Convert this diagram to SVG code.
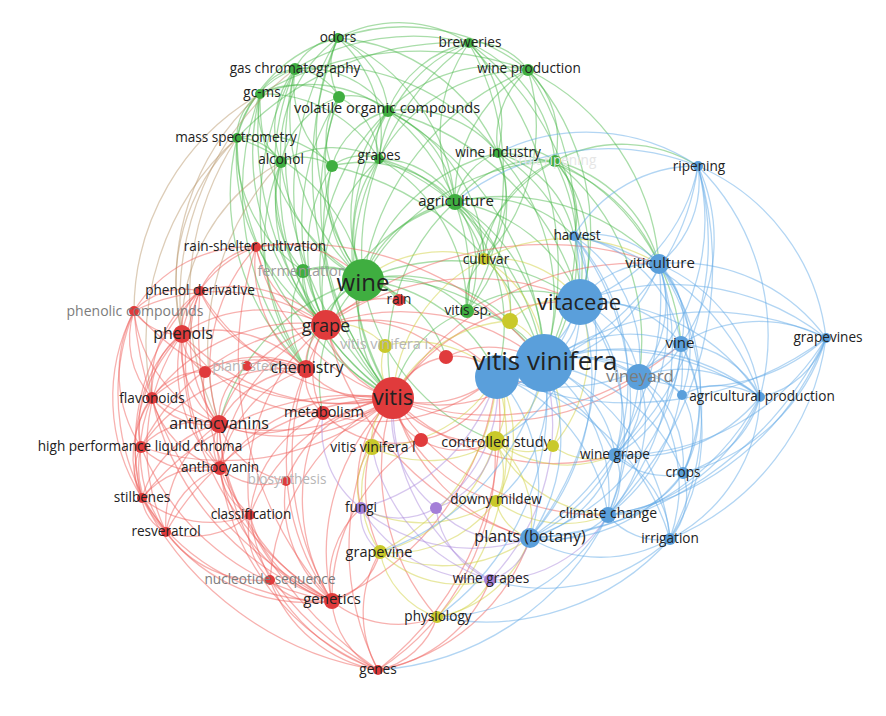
<svg xmlns="http://www.w3.org/2000/svg" width="886" height="716" viewBox="0 0 886 716">
<style>
.e path{fill:none;stroke-width:1.3;stroke-opacity:.48}
.eg{stroke:#4cb84c}.er{stroke:#ef5b58}.eb{stroke:#5ea7e6}.ey{stroke:#cfcf3a}.ep{stroke:#a987dc}.eo{stroke:#b8966a}
text{font-family:"Open Sans","Liberation Sans",sans-serif;fill:#222;text-anchor:middle;font-size:13.6px}
.G circle{fill:#3fae40}.R circle{fill:#e03b3c}.B circle{fill:#5a9fdb}.Y circle{fill:#c9c92b}.P circle{fill:#a47fd8}
.f1{fill:#7c7c7c}.f2{fill:#9c9c9c}.f3{fill:#b6b6b6}.f4{fill:#e6e6e6}
</style>
<rect width="886" height="716" fill="#fff"/>
<g id="connectors" class="e">
<g class="eg">
<path d="M295 69A55 55 0 0 1 338 38"/><path d="M338 38A90 90 0 0 1 388 111"/><path d="M363 280A240 240 0 0 1 338 38"/><path d="M326 325A290 290 0 0 1 338 38"/><path d="M281 162A140 140 0 0 1 338 38"/><path d="M339 97A60 60 0 0 1 338 38"/><path d="M338 38A130 130 0 0 1 469 43"/><path d="M393 398A360 360 0 0 1 338 38"/><path d="M338 38A200 200 0 0 1 455 202"/><path d="M338 38A130 130 0 0 1 379 159"/><path d="M237 138A140 140 0 0 1 338 38"/>
<path d="M469 43A65 65 0 0 1 528 70"/><path d="M469 43A115 115 0 0 1 498 153"/><path d="M455 202A160 160 0 0 1 469 43"/><path d="M363 280A260 260 0 0 1 469 43"/><path d="M469 43A330 330 0 0 1 544 364"/><path d="M469 43A145 145 0 0 1 555 161"/><path d="M469 43A270 270 0 0 1 467 311"/><path d="M469 43A280 280 0 0 1 580 302"/>
<path d="M498 153A90 90 0 0 1 528 70"/><path d="M528 70A95 95 0 0 1 555 161"/><path d="M455 202A150 150 0 0 1 528 70"/><path d="M363 280A270 270 0 0 1 528 70"/><path d="M528 70A295 295 0 0 1 544 364"/><path d="M528 70A240 240 0 0 1 580 302"/><path d="M528 70A235 235 0 0 1 659 264"/><path d="M528 70A195 195 0 0 1 484 259"/>
<path d="M260 94A45 45 0 0 1 295 69"/><path d="M295 69A55 55 0 0 1 339 97"/><path d="M295 69A100 100 0 0 1 388 111"/><path d="M237 138A90 90 0 0 1 295 69"/><path d="M281 162A95 95 0 0 1 295 69"/><path d="M363 280A220 220 0 0 1 295 69"/><path d="M326 325A260 260 0 0 1 295 69"/><path d="M393 398A340 340 0 0 1 295 69"/><path d="M332 166A105 105 0 0 1 295 69"/><path d="M306 369A300 300 0 0 1 295 69"/>
<path d="M237 138A50 50 0 0 1 260 94"/><path d="M260 94A80 80 0 0 1 339 97"/><path d="M260 94A130 130 0 0 1 388 111"/><path d="M281 162A70 70 0 0 1 260 94"/><path d="M363 280A210 210 0 0 1 260 94"/><path d="M326 325A240 240 0 0 1 260 94"/><path d="M393 398A330 330 0 0 1 260 94"/>
<path d="M339 97A52 52 0 0 1 388 111"/><path d="M332 166A70 70 0 0 1 339 97"/><path d="M363 280A185 185 0 0 1 339 97"/><path d="M393 398A305 305 0 0 1 339 97"/><path d="M339 97A75 75 0 0 1 379 159"/><path d="M281 162A90 90 0 0 1 339 97"/>
<path d="M379 159A50 50 0 0 1 388 111"/><path d="M388 111A115 115 0 0 1 455 202"/><path d="M363 280A170 170 0 0 1 388 111"/><path d="M388 111A300 300 0 0 1 544 364"/><path d="M393 398A287 287 0 0 1 388 111"/><path d="M326 325A225 225 0 0 1 388 111"/><path d="M332 166A80 80 0 0 1 388 111"/><path d="M388 111A118 118 0 0 1 498 153"/><path d="M388 111A270 270 0 0 1 580 302"/>
<path d="M237 138A50 50 0 0 1 281 162"/><path d="M237 138A190 190 0 0 1 363 280"/><path d="M326 325A205 205 0 0 1 237 138"/><path d="M393 398A300 300 0 0 1 237 138"/><path d="M303 271A150 150 0 0 1 237 138"/><path d="M306 369A240 240 0 0 1 237 138"/>
<path d="M281 162A52 52 0 0 1 332 166"/><path d="M363 280A145 145 0 0 1 281 162"/><path d="M303 271A112 112 0 0 1 281 162"/><path d="M326 325A170 170 0 0 1 281 162"/><path d="M393 398A260 260 0 0 1 281 162"/><path d="M306 369A210 210 0 0 1 281 162"/>
<path d="M332 166A48 48 0 0 1 379 159"/><path d="M363 280A118 118 0 0 1 332 166"/><path d="M393 398A240 240 0 0 1 332 166"/><path d="M332 166A290 290 0 0 1 544 364"/><path d="M332 166A128 128 0 0 1 455 202"/>
<path d="M379 159A88 88 0 0 1 455 202"/><path d="M363 280A122 122 0 0 1 379 159"/><path d="M379 159A265 265 0 0 1 544 364"/><path d="M393 398A240 240 0 0 1 379 159"/><path d="M379 159A145 145 0 0 1 484 259"/><path d="M379 159A175 175 0 0 1 467 311"/>
<path d="M455 202A65 65 0 0 1 498 153"/><path d="M498 153A58 58 0 0 1 555 161"/><path d="M498 153A216 216 0 0 1 544 364"/><path d="M498 153A170 170 0 0 1 580 302"/><path d="M363 280A185 185 0 0 1 498 153"/><path d="M498 153A107 107 0 0 1 484 259"/><path d="M498 153A161 161 0 0 1 467 311"/>
<path d="M455 202A108 108 0 0 1 555 161"/><path d="M555 161A203 203 0 0 1 544 364"/><path d="M555 161A143 143 0 0 1 580 302"/><path d="M555 161A77 77 0 0 1 574 236"/><path d="M555 161A146 146 0 0 1 659 264"/><path d="M555 161A143 143 0 0 1 698 166"/><path d="M555 161A222 222 0 0 1 681 344"/><path d="M555 161A232 232 0 0 1 639 377"/><path d="M363 280A226 226 0 0 1 555 161"/>
<path d="M363 280A120 120 0 0 1 455 202"/><path d="M455 202A185 185 0 0 1 544 364"/><path d="M455 202A160 160 0 0 1 580 302"/><path d="M455 202A64 64 0 0 1 484 259"/><path d="M455 202A110 110 0 0 1 467 311"/><path d="M393 398A205 205 0 0 1 455 202"/><path d="M455 202A178 178 0 0 1 497 375"/><path d="M455 202A124 124 0 0 1 574 236"/>
<path d="M326 325A58 58 0 0 1 363 280"/><path d="M393 398A122 122 0 0 1 363 280"/><path d="M363 280A200 200 0 0 1 544 364"/><path d="M363 280A165 165 0 0 1 497 375"/><path d="M303 271A61 61 0 0 1 363 280"/><path d="M363 280A41 41 0 0 1 399 300"/><path d="M363 280A108 108 0 0 1 467 311"/><path d="M306 369A106 106 0 0 1 363 280"/><path d="M363 280A218 218 0 0 1 580 302"/><path d="M495 441A208 208 0 0 1 363 280"/>
<path d="M326 325A59 59 0 0 1 303 271"/><path d="M393 398A156 156 0 0 1 303 271"/><path d="M306 369A98 98 0 0 1 303 271"/>
<path d="M467 311A94 94 0 0 1 544 364"/><path d="M467 311A113 113 0 0 1 580 302"/><path d="M393 398A114 114 0 0 1 467 311"/><path d="M467 311A55 55 0 0 1 484 259"/>
<path d="M326 325A175 175 0 0 1 379 159"/><path d="M326 325A190 190 0 0 1 455 202"/><path d="M455 202A215 215 0 0 1 659 264"/><path d="M498 153A110 110 0 0 1 574 236"/><path d="M498 153A180 180 0 0 1 659 264"/><path d="M388 111A170 170 0 0 1 484 259"/><path d="M326 325A160 160 0 0 1 332 166"/><path d="M338 38A190 190 0 0 1 498 153"/><path d="M388 111A110 110 0 0 1 469 43"/><path d="M388 111A150 150 0 0 1 528 70"/><path d="M379 159A170 170 0 0 1 528 70"/><path d="M379 159A140 140 0 0 1 469 43"/><path d="M338 38A200 200 0 0 1 528 70"/><path d="M295 69A215 215 0 0 1 498 153"/><path d="M260 94A135 135 0 0 1 379 159"/><path d="M237 138A100 100 0 0 1 332 166"/><path d="M281 162A100 100 0 0 1 379 159"/><path d="M303 271A100 100 0 0 1 399 300"/><path d="M323 413A140 140 0 0 1 363 280"/><path d="M219 424A205 205 0 0 1 363 280"/><path d="M363 280A115 115 0 0 1 446 357"/><path d="M363 280A160 160 0 0 1 510 321"/><path d="M455 202A130 130 0 0 1 510 321"/><path d="M484 259A120 120 0 0 1 555 161"/><path d="M467 311A175 175 0 0 1 555 161"/><path d="M326 325A230 230 0 0 1 339 97"/><path d="M388 111A215 215 0 0 1 467 311"/><path d="M306 369A280 280 0 0 1 260 94"/>
<path d="M295 69A230 230 0 0 1 469 43"/><path d="M260 94A320 320 0 0 1 528 70"/><path d="M237 138A300 300 0 0 1 469 43"/>
</g>
<g class="eo">
<path d="M182 334A250 250 0 0 1 260 94"/><path d="M182 334A205 205 0 0 1 237 138"/><path d="M152 398A273 273 0 0 1 237 138"/><path d="M134 311A251 251 0 0 1 260 94"/><path d="M219 424A270 270 0 0 1 281 162"/><path d="M219 424A290 290 0 0 1 237 138"/><path d="M182 334A190 190 0 0 1 281 162"/><path d="M182 334A290 290 0 0 1 295 69"/>
</g>
<g class="er">
<path d="M326 325A105 105 0 0 1 256 247"/><path d="M393 398A204 204 0 0 1 256 247"/><path d="M256 247A112 112 0 0 1 363 280"/><path d="M306 369A132 132 0 0 1 256 247"/><path d="M182 334A114 114 0 0 1 256 247"/><path d="M256 247A310 310 0 0 1 544 364"/>
<path d="M182 334A47 47 0 0 1 200 291"/><path d="M134 311A69 69 0 0 1 200 291"/><path d="M200 291A130 130 0 0 1 326 325"/><path d="M393 398A220 220 0 0 1 200 291"/><path d="M219 424A134 134 0 0 1 200 291"/><path d="M306 369A132 132 0 0 1 200 291"/><path d="M152 398A117 117 0 0 1 200 291"/>
<path d="M182 334A53 53 0 0 1 134 311"/><path d="M152 398A89 89 0 0 1 134 311"/><path d="M142 498A187 187 0 0 1 134 311"/><path d="M166 532A223 223 0 0 1 134 311"/><path d="M219 424A141 141 0 0 1 134 311"/><path d="M141 447A136 136 0 0 1 134 311"/><path d="M134 311A192 192 0 0 1 326 325"/>
<path d="M152 398A71 71 0 0 1 182 334"/><path d="M219 424A97 97 0 0 1 182 334"/><path d="M142 498A169 169 0 0 1 182 334"/><path d="M166 532A199 199 0 0 1 182 334"/><path d="M141 447A120 120 0 0 1 182 334"/><path d="M182 334A144 144 0 0 1 326 325"/><path d="M393 398A220 220 0 0 1 182 334"/><path d="M182 334A129 129 0 0 1 306 369"/><path d="M205 372A44 44 0 0 1 182 334"/><path d="M220 468A139 139 0 0 1 182 334"/>
<path d="M393 398A99 99 0 0 1 326 325"/><path d="M306 369A48 48 0 0 1 326 325"/><path d="M323 413A88 88 0 0 1 326 325"/><path d="M219 424A146 146 0 0 1 326 325"/><path d="M326 325A221 221 0 0 1 544 364"/><path d="M326 325A178 178 0 0 1 497 375"/><path d="M326 325A77 77 0 0 1 399 300"/><path d="M326 325A124 124 0 0 1 446 357"/><path d="M332 601A276 276 0 0 1 326 325"/><path d="M250 515A205 205 0 0 1 326 325"/>
<path d="M393 398A92 92 0 0 1 306 369"/><path d="M323 413A47 47 0 0 1 306 369"/><path d="M219 424A103 103 0 0 1 306 369"/><path d="M205 372A101 101 0 0 1 306 369"/><path d="M247 366A60 60 0 0 1 306 369"/><path d="M332 601A233 233 0 0 1 306 369"/>
<path d="M497 375A107 107 0 0 1 393 398"/><path d="M544 364A155 155 0 0 1 393 398"/><path d="M393 398A72 72 0 0 1 323 413"/><path d="M421 440A50 50 0 0 1 393 398"/><path d="M393 398A67 67 0 0 1 446 357"/><path d="M393 398A176 176 0 0 1 219 424"/><path d="M332 601A212 212 0 0 1 393 398"/><path d="M250 515A185 185 0 0 1 393 398"/><path d="M393 398A210 210 0 0 1 580 302"/><path d="M495 441A111 111 0 0 1 393 398"/><path d="M380 552A155 155 0 0 1 393 398"/><path d="M361 508A115 115 0 0 1 393 398"/><path d="M530 538A196 196 0 0 1 393 398"/>
<path d="M219 424A72 72 0 0 1 152 398"/><path d="M141 447A50 50 0 0 1 152 398"/><path d="M142 498A100 100 0 0 1 152 398"/><path d="M166 532A135 135 0 0 1 152 398"/><path d="M152 398A59 59 0 0 1 205 372"/><path d="M220 468A98 98 0 0 1 152 398"/>
<path d="M141 447A81 81 0 0 1 219 424"/><path d="M220 468A44 44 0 0 1 219 424"/><path d="M142 498A107 107 0 0 1 219 424"/><path d="M166 532A120 120 0 0 1 219 424"/><path d="M323 413A105 105 0 0 1 219 424"/><path d="M250 515A96 96 0 0 1 219 424"/><path d="M286 481A88 88 0 0 1 219 424"/>
<path d="M142 498A51 51 0 0 1 141 447"/><path d="M166 532A89 89 0 0 1 141 447"/><path d="M220 468A82 82 0 0 1 141 447"/>
<path d="M142 498A84 84 0 0 1 220 468"/><path d="M166 532A84 84 0 0 1 220 468"/><path d="M286 481A67 67 0 0 1 220 468"/><path d="M250 515A56 56 0 0 1 220 468"/>
<path d="M166 532A42 42 0 0 1 142 498"/><path d="M250 515A109 109 0 0 1 142 498"/><path d="M250 515A86 86 0 0 1 166 532"/><path d="M332 601A180 180 0 0 1 166 532"/><path d="M270 580A115 115 0 0 1 166 532"/>
<path d="M270 580A68 68 0 0 1 250 515"/><path d="M332 601A119 119 0 0 1 250 515"/><path d="M332 601A65 65 0 0 1 270 580"/><path d="M378 670A140 140 0 0 1 270 580"/><path d="M270 580A220 220 0 0 1 393 398"/>
<path d="M378 670A83 83 0 0 1 332 601"/><path d="M380 552A68 68 0 0 1 332 601"/><path d="M497 375A280 280 0 0 1 332 601"/><path d="M437 617A106 106 0 0 1 332 601"/><path d="M332 601A97 97 0 0 1 361 508"/>
<path d="M378 670A118 118 0 0 1 380 552"/><path d="M437 617A79 79 0 0 1 378 670"/><path d="M497 375A320 320 0 0 1 378 670"/><path d="M495 441A257 257 0 0 1 378 670"/><path d="M530 538A201 201 0 0 1 378 670"/><path d="M490 580A144 144 0 0 1 378 670"/><path d="M378 670A293 293 0 0 1 219 424"/>
<path d="M421 440A102 102 0 0 1 323 413"/><path d="M497 375A178 178 0 0 1 323 413"/><path d="M446 357A54 54 0 0 1 497 375"/><path d="M446 357A98 98 0 0 1 544 364"/><path d="M497 375A100 100 0 0 1 421 440"/><path d="M286 481A135 135 0 0 1 393 398"/>
<path d="M332 601A351 351 0 0 1 134 311"/><path d="M378 670A418 418 0 0 1 200 291"/><path d="M332 601A362 362 0 0 1 256 247"/><path d="M639 377A247 247 0 0 1 393 398"/><path d="M615 455A229 229 0 0 1 393 398"/><path d="M326 325A255 255 0 0 1 580 302"/>
<path d="M152 398A185 185 0 0 1 326 325"/><path d="M220 468A180 180 0 0 1 326 325"/><path d="M141 447A225 225 0 0 1 326 325"/><path d="M152 398A155 155 0 0 1 306 369"/><path d="M220 468A130 130 0 0 1 306 369"/><path d="M141 447A180 180 0 0 1 306 369"/><path d="M393 398A240 240 0 0 1 152 398"/><path d="M220 468A185 185 0 0 1 393 398"/><path d="M393 398A260 260 0 0 1 141 447"/><path d="M142 498A270 270 0 0 1 393 398"/><path d="M166 532A265 265 0 0 1 393 398"/><path d="M393 398A275 275 0 0 1 134 311"/>
<path d="M332 601A210 210 0 0 1 219 424"/><path d="M332 601A170 170 0 0 1 220 468"/><path d="M332 601A220 220 0 0 1 142 498"/><path d="M332 601A250 250 0 0 1 141 447"/><path d="M332 601A275 275 0 0 1 152 398"/><path d="M332 601A300 300 0 0 1 182 334"/><path d="M332 601A190 190 0 0 1 323 413"/><path d="M378 670A190 190 0 0 1 250 515"/><path d="M378 670A250 250 0 0 1 220 468"/><path d="M378 670A275 275 0 0 1 393 398"/><path d="M378 670A320 320 0 0 1 142 498"/>
<path d="M200 291A75 75 0 0 1 256 247"/><path d="M134 311A135 135 0 0 1 256 247"/><path d="M219 424A180 180 0 0 1 256 247"/><path d="M220 468A180 180 0 0 1 200 291"/><path d="M142 498A215 215 0 0 1 200 291"/><path d="M323 413A160 160 0 0 1 182 334"/><path d="M219 424A55 55 0 0 1 205 372"/><path d="M219 424A65 65 0 0 1 247 366"/><path d="M250 515A125 125 0 0 1 323 413"/><path d="M332 601A130 130 0 0 1 286 481"/><path d="M332 601A185 185 0 0 1 421 440"/><path d="M495 441A75 75 0 0 1 421 440"/>
<path d="M393 398A290 290 0 0 1 659 264"/><path d="M326 325A340 340 0 0 1 659 264"/><path d="M681 344A290 290 0 0 1 393 398"/><path d="M608 515A245 245 0 0 1 393 398"/><path d="M496 501A145 145 0 0 1 393 398"/><path d="M437 617A225 225 0 0 1 393 398"/><path d="M530 538A295 295 0 0 1 326 325"/>
</g>
<g class="ey">
<path d="M484 259A121 121 0 0 1 544 364"/><path d="M484 259A105 105 0 0 1 580 302"/><path d="M484 259A67 67 0 0 1 510 321"/><path d="M393 398A166 166 0 0 1 484 259"/><path d="M363 280A125 125 0 0 1 484 259"/><path d="M484 259A180 180 0 0 1 659 264"/>
<path d="M510 321A55 55 0 0 1 544 364"/><path d="M510 321A73 73 0 0 1 580 302"/><path d="M393 398A140 140 0 0 1 510 321"/>
<path d="M393 398A53 53 0 0 1 385 346"/><path d="M326 325A63 63 0 0 1 385 346"/><path d="M385 346A116 116 0 0 1 497 375"/>
<path d="M372 447A53 53 0 0 1 393 398"/><path d="M495 441A123 123 0 0 1 372 447"/><path d="M380 552A105 105 0 0 1 372 447"/><path d="M361 508A62 62 0 0 1 372 447"/><path d="M497 375A144 144 0 0 1 372 447"/>
<path d="M544 364A91 91 0 0 1 495 441"/><path d="M497 375A66 66 0 0 1 495 441"/><path d="M495 441A60 60 0 0 1 496 501"/><path d="M495 441A103 103 0 0 1 530 538"/><path d="M553 446A58 58 0 0 1 495 441"/><path d="M495 441A160 160 0 0 1 380 552"/><path d="M608 515A135 135 0 0 1 495 441"/><path d="M615 455A120 120 0 0 1 495 441"/>
<path d="M544 364A82 82 0 0 1 553 446"/><path d="M580 302A147 147 0 0 1 553 446"/><path d="M615 455A65 65 0 0 1 553 446"/>
<path d="M530 538A50 50 0 0 1 496 501"/><path d="M496 501A127 127 0 0 1 380 552"/><path d="M497 375A126 126 0 0 1 496 501"/><path d="M496 501A135 135 0 0 1 361 508"/><path d="M608 515A115 115 0 0 1 496 501"/>
<path d="M437 617A86 86 0 0 1 380 552"/><path d="M530 538A151 151 0 0 1 380 552"/><path d="M497 375A212 212 0 0 1 380 552"/><path d="M490 580A113 113 0 0 1 380 552"/>
<path d="M530 538A122 122 0 0 1 437 617"/><path d="M490 580A65 65 0 0 1 437 617"/><path d="M497 375A249 249 0 0 1 437 617"/>
</g>
<g class="ep">
<path d="M436 508A75 75 0 0 1 361 508"/><path d="M490 580A148 148 0 0 1 361 508"/><path d="M497 375A190 190 0 0 1 361 508"/><path d="M380 552A48 48 0 0 1 361 508"/>
<path d="M490 580A90 90 0 0 1 436 508"/><path d="M497 375A146 146 0 0 1 436 508"/><path d="M530 538A99 99 0 0 1 436 508"/>
<path d="M530 538A58 58 0 0 1 490 580"/><path d="M544 364A223 223 0 0 1 490 580"/><path d="M608 515A135 135 0 0 1 490 580"/><path d="M490 580A206 206 0 0 1 393 398"/><path d="M530 538A172 172 0 0 1 361 508"/><path d="M436 508A118 118 0 0 1 393 398"/>
<path d="M361 508A100 100 0 0 1 323 413"/><path d="M495 441A90 90 0 0 1 436 508"/><path d="M490 580A175 175 0 0 1 372 447"/>
</g>
<g class="eb">
<path d="M580 302A72 72 0 0 1 544 364"/><path d="M659 264A152 152 0 0 1 544 364"/><path d="M544 364A138 138 0 0 1 681 344"/><path d="M544 364A96 96 0 0 1 639 377"/><path d="M544 364A218 218 0 0 1 760 397"/><path d="M544 364A115 115 0 0 1 615 455"/><path d="M544 364A177 177 0 0 1 683 473"/><path d="M544 364A164 164 0 0 1 608 515"/><path d="M544 364A216 216 0 0 1 670 539"/><path d="M544 364A175 175 0 0 1 530 538"/><path d="M544 364A283 283 0 0 1 826 338"/><path d="M698 166A251 251 0 0 1 544 364"/><path d="M574 236A131 131 0 0 1 544 364"/><path d="M544 364A141 141 0 0 1 682 395"/>
<path d="M580 302A88 88 0 0 1 659 264"/><path d="M574 236A66 66 0 0 1 580 302"/><path d="M698 166A180 180 0 0 1 580 302"/><path d="M580 302A109 109 0 0 1 681 344"/><path d="M580 302A95 95 0 0 1 639 377"/><path d="M580 302A249 249 0 0 1 826 338"/><path d="M580 302A204 204 0 0 1 760 397"/><path d="M580 302A157 157 0 0 1 615 455"/><path d="M580 302A215 215 0 0 1 608 515"/><path d="M580 302A241 241 0 0 1 530 538"/>
<path d="M698 166A105 105 0 0 1 659 264"/><path d="M574 236A90 90 0 0 1 659 264"/><path d="M659 264A83 83 0 0 1 681 344"/><path d="M659 264A115 115 0 0 1 639 377"/><path d="M659 264A183 183 0 0 1 826 338"/><path d="M659 264A167 167 0 0 1 760 397"/><path d="M659 264A256 256 0 0 1 608 515"/><path d="M659 264A196 196 0 0 1 615 455"/><path d="M659 264A275 275 0 0 1 670 539"/><path d="M659 264A210 210 0 0 1 683 473"/>
<path d="M574 236A142 142 0 0 1 698 166"/><path d="M698 166A179 179 0 0 1 681 344"/><path d="M698 166A214 214 0 0 1 826 338"/><path d="M698 166A219 219 0 0 1 639 377"/><path d="M498 153A200 200 0 0 1 698 166"/><path d="M455 202A245 245 0 0 1 698 166"/>
<path d="M681 344A145 145 0 0 1 826 338"/><path d="M826 338A88 88 0 0 1 760 397"/><path d="M826 338A254 254 0 0 1 670 539"/><path d="M826 338A281 281 0 0 1 608 515"/><path d="M826 338A357 357 0 0 1 530 538"/><path d="M826 338A197 197 0 0 1 683 473"/><path d="M826 338A241 241 0 0 1 615 455"/><path d="M826 338A330 330 0 0 1 497 375"/>
<path d="M681 344A53 53 0 0 1 639 377"/><path d="M681 344A95 95 0 0 1 760 397"/><path d="M681 344A186 186 0 0 1 608 515"/><path d="M681 344A195 195 0 0 1 670 539"/><path d="M681 344A129 129 0 0 1 615 455"/>
<path d="M639 377A123 123 0 0 1 760 397"/><path d="M639 377A141 141 0 0 1 608 515"/><path d="M639 377A82 82 0 0 1 615 455"/><path d="M639 377A165 165 0 0 1 670 539"/><path d="M639 377A106 106 0 0 1 683 473"/><path d="M639 377A194 194 0 0 1 530 538"/>
<path d="M760 397A168 168 0 0 1 670 539"/><path d="M760 397A192 192 0 0 1 608 515"/><path d="M760 397A108 108 0 0 1 683 473"/><path d="M760 397A270 270 0 0 1 530 538"/>
<path d="M615 455A60 60 0 0 1 608 515"/><path d="M683 473A70 70 0 0 1 615 455"/><path d="M615 455A100 100 0 0 1 670 539"/><path d="M615 455A119 119 0 0 1 530 538"/>
<path d="M670 539A66 66 0 0 1 608 515"/><path d="M608 515A81 81 0 0 1 530 538"/><path d="M683 473A86 86 0 0 1 608 515"/><path d="M670 539A140 140 0 0 1 530 538"/><path d="M683 473A67 67 0 0 1 670 539"/>
<path d="M497 375A166 166 0 0 1 530 538"/><path d="M580 302A110 110 0 0 1 497 375"/><path d="M497 375A179 179 0 0 1 608 515"/>
<path d="M639 377A47 47 0 0 1 682 395"/><path d="M682 395A78 78 0 0 1 760 397"/><path d="M659 264A133 133 0 0 1 682 395"/><path d="M682 395A78 78 0 0 1 683 473"/>
<path d="M670 539A185 185 0 0 1 490 580"/><path d="M608 515A199 199 0 0 1 437 617"/><path d="M608 515A277 277 0 0 1 378 670"/><path d="M670 539A246 246 0 0 1 437 617"/>
<path d="M574 236A130 130 0 0 1 681 344"/><path d="M574 236A150 150 0 0 1 639 377"/>
<path d="M544 364A140 140 0 0 1 496 501"/><path d="M544 364A265 265 0 0 1 437 617"/><path d="M544 364A250 250 0 0 1 380 552"/><path d="M580 302A150 150 0 0 1 495 441"/><path d="M659 264A290 290 0 0 1 530 538"/><path d="M698 166A240 240 0 0 1 760 397"/><path d="M698 166A350 350 0 0 1 608 515"/><path d="M698 166A290 290 0 0 1 615 455"/><path d="M574 236A220 220 0 0 1 615 455"/><path d="M574 236A280 280 0 0 1 608 515"/><path d="M574 236A300 300 0 0 1 530 538"/><path d="M574 236A245 245 0 0 1 760 397"/><path d="M681 344A185 185 0 0 1 497 375"/><path d="M497 375A140 140 0 0 1 615 455"/><path d="M497 375A240 240 0 0 1 670 539"/><path d="M497 375A142 142 0 0 1 639 377"/><path d="M497 375A265 265 0 0 1 760 397"/><path d="M826 338A190 190 0 0 1 639 377"/><path d="M683 473A165 165 0 0 1 530 538"/><path d="M760 397A160 160 0 0 1 615 455"/><path d="M681 344A130 130 0 0 1 683 473"/><path d="M681 344A220 220 0 0 1 530 538"/>
</g>
</g>
<g id="nodes">
<g id="n-fruit-ripening" class="G"><circle cx="555" cy="161" r="6"/><text x="555" y="165" class="f4">fruit ripening</text></g>
<g id="n-fermentation" class="G"><circle cx="303" cy="271" r="7"/><text x="302" y="276" style="font-size:14.5px" class="f2">fermentation</text></g>
<g id="n-plant-stem" class="R"><circle cx="247" cy="366" r="5"/><text x="247" y="371" style="font-size:14px" class="f3">plant stem</text></g>
<g id="n-biosynthesis" class="R"><circle cx="286" cy="481" r="5"/><text x="287" y="484" class="f3">biosynthesis</text></g>
<g id="n-vitis-vinifera-l-2" class="Y"><circle cx="385" cy="346" r="7"/><text x="386" y="349" style="font-size:14.5px" class="f3">vitis vinifera l.</text></g>
<g id="n-vitis-2" class="B"><circle cx="497" cy="377" r="22"/></g>
<g id="n-vitis-vinifera" class="B"><circle cx="544" cy="363" r="29"/><text x="545" y="370" style="font-size:26px">vitis vinifera</text></g>
<g id="n-vitaceae" class="B"><circle cx="580" cy="302" r="23"/><text x="579" y="310" style="font-size:22px">vitaceae</text></g>
<g id="n-wine" class="G"><circle cx="363" cy="280" r="21"/><text x="363" y="291" style="font-size:24px">wine</text></g>
<g id="n-vitis" class="R"><circle cx="393" cy="398" r="21"/><text x="393" y="405" style="font-size:22px">vitis</text></g>
<g id="n-grape" class="R"><circle cx="326" cy="325" r="15"/><text x="326" y="332" style="font-size:18px">grape</text></g>
<g id="n-vineyard" class="B"><circle cx="639" cy="377" r="13"/><text x="640" y="382" style="font-size:17px" class="f1">vineyard</text></g>
<g id="n-odors" class="G"><circle cx="338" cy="38" r="5"/><text x="338" y="42">odors</text></g>
<g id="n-breweries" class="G"><circle cx="469" cy="43" r="5"/><text x="470" y="47">breweries</text></g>
<g id="n-wine-production" class="G"><circle cx="528" cy="70" r="6"/><text x="529" y="73">wine production</text></g>
<g id="n-gas-chromatography" class="G"><circle cx="295" cy="69" r="6"/><text x="295" y="73">gas chromatography</text></g>
<g id="n-gc-ms" class="G"><circle cx="260" cy="94" r="5"/><text x="262" y="97">gc-ms</text></g>
<g id="n-green-1" class="G"><circle cx="339" cy="97" r="6"/></g>
<g id="n-volatile-organic-compounds" class="G"><circle cx="388" cy="111" r="6"/><text x="387" y="113" style="font-size:14.5px">volatile organic compounds</text></g>
<g id="n-mass-spectrometry" class="G"><circle cx="237" cy="138" r="5"/><text x="236" y="142">mass spectrometry</text></g>
<g id="n-alcohol" class="G"><circle cx="281" cy="162" r="6"/><text x="281" y="164">alcohol</text></g>
<g id="n-green-2" class="G"><circle cx="332" cy="166" r="6"/></g>
<g id="n-grapes" class="G"><circle cx="379" cy="159" r="5"/><text x="379" y="160">grapes</text></g>
<g id="n-wine-industry" class="G"><circle cx="498" cy="153" r="5"/><text x="498" y="157">wine industry</text></g>
<g id="n-agriculture" class="G"><circle cx="455" cy="202" r="8"/><text x="456" y="206" style="font-size:15px">agriculture</text></g>
<g id="n-vitis-sp" class="G"><circle cx="467" cy="311" r="7"/><text x="468" y="315">vitis sp.</text></g>
<g id="n-rain-shelter-cultivation" class="R"><circle cx="256" cy="247" r="5"/><text x="255" y="251">rain-shelter cultivation</text></g>
<g id="n-phenol-derivative" class="R"><circle cx="200" cy="291" r="5"/><text x="200" y="295">phenol derivative</text></g>
<g id="n-phenolic-compounds" class="R"><circle cx="134" cy="311" r="5"/><text x="135" y="316" style="font-size:14px" class="f1">phenolic compounds</text></g>
<g id="n-phenols" class="R"><circle cx="182" cy="334" r="9"/><text x="183" y="339" style="font-size:16px">phenols</text></g>
<g id="n-rain" class="R"><circle cx="399" cy="300" r="6"/><text x="399" y="304">rain</text></g>
<g id="n-red-1" class="R"><circle cx="205" cy="372" r="6"/></g>
<g id="n-chemistry" class="R"><circle cx="306" cy="369" r="9"/><text x="307" y="373" style="font-size:16px">chemistry</text></g>
<g id="n-red-2" class="R"><circle cx="446" cy="357" r="7"/></g>
<g id="n-flavonoids" class="R"><circle cx="152" cy="398" r="6"/><text x="152" y="403">flavonoids</text></g>
<g id="n-anthocyanins" class="R"><circle cx="219" cy="424" r="9"/><text x="219" y="429" style="font-size:16px">anthocyanins</text></g>
<g id="n-metabolism" class="R"><circle cx="323" cy="413" r="7"/><text x="324" y="417" style="font-size:14.5px">metabolism</text></g>
<g id="n-hplc" class="R"><circle cx="141" cy="447" r="6"/><text x="140" y="451">high performance liquid chroma</text></g>
<g id="n-anthocyanin" class="R"><circle cx="220" cy="468" r="7"/><text x="220" y="472">anthocyanin</text></g>
<g id="n-red-3" class="R"><circle cx="421" cy="440" r="7"/></g>
<g id="n-stilbenes" class="R"><circle cx="142" cy="498" r="5"/><text x="142" y="502">stilbenes</text></g>
<g id="n-classification" class="R"><circle cx="250" cy="515" r="5"/><text x="251" y="519">classification</text></g>
<g id="n-resveratrol" class="R"><circle cx="166" cy="532" r="5"/><text x="166" y="536">resveratrol</text></g>
<g id="n-nucleotide-sequence" class="R"><circle cx="270" cy="580" r="5"/><text x="270" y="584" class="f1">nucleotide sequence</text></g>
<g id="n-genetics" class="R"><circle cx="332" cy="601" r="8"/><text x="332" y="604" style="font-size:15px">genetics</text></g>
<g id="n-genes" class="R"><circle cx="378" cy="670" r="5"/><text x="378" y="674">genes</text></g>
<g id="n-cultivar" class="Y"><circle cx="484" cy="259" r="6"/><text x="486" y="264">cultivar</text></g>
<g id="n-yellow-1" class="Y"><circle cx="510" cy="321" r="8"/></g>
<g id="n-vitis-vinifera-l" class="Y"><circle cx="372" cy="447" r="8"/><text x="373" y="452" style="font-size:14px">vitis vinifera l</text></g>
<g id="n-controlled-study" class="Y"><circle cx="495" cy="441" r="10"/><text x="496" y="447" style="font-size:14.5px">controlled study</text></g>
<g id="n-yellow-2" class="Y"><circle cx="553" cy="446" r="6"/></g>
<g id="n-downy-mildew" class="Y"><circle cx="496" cy="501" r="6"/><text x="496" y="504">downy mildew</text></g>
<g id="n-grapevine" class="Y"><circle cx="380" cy="552" r="7"/><text x="379" y="557" style="font-size:14.5px">grapevine</text></g>
<g id="n-physiology" class="Y"><circle cx="437" cy="617" r="6"/><text x="438" y="621">physiology</text></g>
<g id="n-fungi" class="P"><circle cx="361" cy="508" r="6"/><text x="361" y="512">fungi</text></g>
<g id="n-purple-1" class="P"><circle cx="436" cy="508" r="6"/></g>
<g id="n-wine-grapes" class="P"><circle cx="490" cy="580" r="6"/><text x="491" y="583">wine grapes</text></g>
<g id="n-viticulture" class="B"><circle cx="659" cy="264" r="10"/><text x="660" y="268" style="font-size:15px">viticulture</text></g>
<g id="n-harvest" class="B"><circle cx="574" cy="236" r="5"/><text x="577" y="240">harvest</text></g>
<g id="n-ripening" class="B"><circle cx="698" cy="166" r="5"/><text x="699" y="171">ripening</text></g>
<g id="n-grapevines" class="B"><circle cx="826" cy="338" r="5"/><text x="828" y="342">grapevines</text></g>
<g id="n-vine" class="B"><circle cx="681" cy="344" r="8"/><text x="680" y="348" style="font-size:15px">vine</text></g>
<g id="n-blue-1" class="B"><circle cx="682" cy="395" r="5"/></g>
<g id="n-agricultural-production" class="B"><circle cx="760" cy="397" r="5"/><text x="762" y="401">agricultural production</text></g>
<g id="n-wine-grape" class="B"><circle cx="615" cy="455" r="7"/><text x="615" y="459">wine grape</text></g>
<g id="n-crops" class="B"><circle cx="683" cy="473" r="6"/><text x="683" y="477">crops</text></g>
<g id="n-climate-change" class="B"><circle cx="608" cy="515" r="8"/><text x="608" y="518" style="font-size:14px">climate change</text></g>
<g id="n-irrigation" class="B"><circle cx="670" cy="539" r="6"/><text x="670" y="543">irrigation</text></g>
<g id="n-plants-botany" class="B"><circle cx="530" cy="538" r="10"/><text x="530" y="542" style="font-size:16px">plants (botany)</text></g>
</g>
</svg>
